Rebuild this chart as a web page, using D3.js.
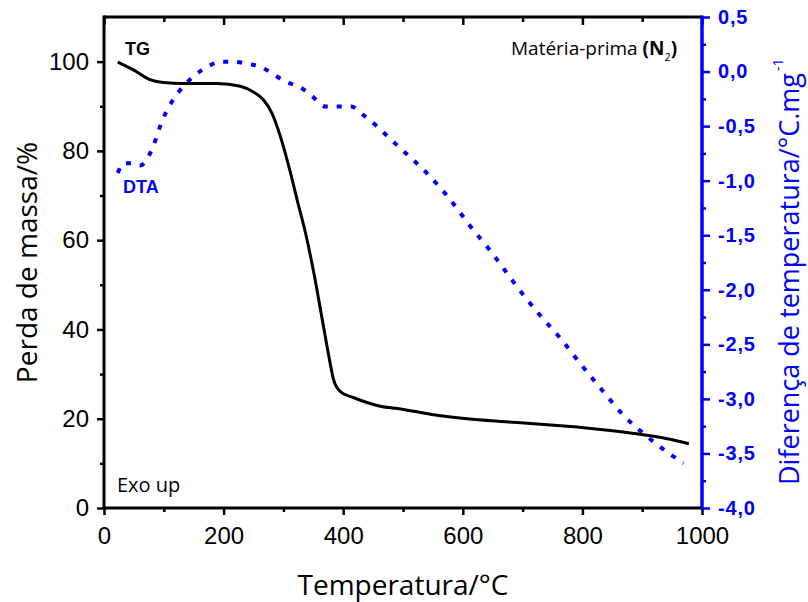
<!DOCTYPE html>
<html>
<head>
<meta charset="utf-8">
<script src="https://cdn.jsdelivr.net/npm/d3@7/dist/d3.min.js"></script>
<style>
  html, body { margin: 0; padding: 0; background: #fff; }
  svg { display: block; }
</style>
</head>
<body>
<svg id="chart" width="808" height="602"></svg>
<script>
// ---------- DATA ----------
const tgTemp = [23, 50, 78, 100, 133, 189, 228, 250, 267, 281, 295, 312, 323, 337, 351, 365, 376, 384, 395, 418, 462, 496, 551, 607, 663, 719, 775, 830, 886, 942, 978];
const tgMass = [99.9, 98.1, 95.9, 95.3, 95.1, 95.1, 94.5, 93.2, 91.4, 88.4, 83.2, 75.0, 69.0, 61.6, 52.6, 42.2, 34.0, 28.7, 26.1, 24.7, 22.8, 22.2, 20.9, 20.0, 19.4, 18.9, 18.3, 17.6, 16.7, 15.5, 14.4];

const dtaTemp = [23, 33, 47, 61, 77, 86, 94, 104, 116, 132, 153, 175, 195, 217, 240, 262, 283, 304, 327, 348, 370, 390, 413, 434, 456, 478, 500, 518, 538, 556, 574, 591, 607, 624, 641, 658, 691, 727, 764, 797, 833, 867, 906, 942, 969];
const dtaVal  = [-0.93, -0.84, -0.84, -0.86, -0.75, -0.63, -0.50, -0.37, -0.255, -0.14, -0.03, 0.05, 0.09, 0.09, 0.07, 0.044, -0.024, -0.094, -0.14, -0.225, -0.32, -0.32, -0.32, -0.40, -0.50, -0.613, -0.725, -0.815, -0.92, -1.026, -1.14, -1.26, -1.378, -1.495, -1.607, -1.73, -1.974, -2.22, -2.45, -2.68, -2.92, -3.14, -3.335, -3.488, -3.59];

const xTicks = [0, 200, 400, 600, 800, 1000];
const xMinor = [100, 300, 500, 700, 900];
const yLeftTicks = [0, 20, 40, 60, 80, 100];
const yLeftMinor = [10, 30, 50, 70, 90];
const yRightTicks = [0.5, 0.0, -0.5, -1.0, -1.5, -2.0, -2.5, -3.0, -3.5, -4.0];
const yRightMinor = [0.25, -0.25, -0.75, -1.25, -1.75, -2.25, -2.75, -3.25, -3.75];

// ---------- LAYOUT ----------
const L = 104, R = 702, T = 17, B = 508;
const BLUE = "#0000ff";
const svg = d3.select("#chart");

const x = d3.scaleLinear().domain([0, 1000]).range([L, R]);
const yL = d3.scaleLinear().domain([0, 110]).range([B, T]);
const yR = d3.scaleLinear().domain([-4.0, 0.5]).range([B, T]);

const fmtR = v => (Math.abs(v) < 1e-9 ? "0,0" : v.toFixed(1).replace(".", ","));

function styleAxis(g, color, fontSize, weight, family) {
  g.select(".domain").remove();
  g.selectAll(".tick line").attr("stroke", color).attr("stroke-width", 2.5);
  g.selectAll(".tick text")
    .attr("fill", color)
    .style("font-family", family || "'Liberation Sans', Arial, sans-serif")
    .style("font-size", fontSize + "px")
    .style("font-weight", weight || "normal");
}

// bottom axis
svg.append("g").attr("transform", `translate(0,${B})`)
  .call(d3.axisBottom(x).tickValues(xTicks).tickSize(7).tickPadding(12).tickFormat(d3.format("d")))
  .call(g => styleAxis(g, "#000", 24));
svg.append("g").attr("transform", `translate(0,${B})`)
  .call(d3.axisBottom(x).tickValues(xMinor).tickSize(4).tickFormat(""))
  .call(g => styleAxis(g, "#000", 24));
// top axis (ticks inward)
svg.append("g").attr("transform", `translate(0,${T})`)
  .call(d3.axisTop(x).tickValues(xTicks).tickSize(-8).tickFormat(""))
  .call(g => styleAxis(g, "#000", 24));
svg.append("g").attr("transform", `translate(0,${T})`)
  .call(d3.axisTop(x).tickValues(xMinor).tickSize(-5).tickFormat(""))
  .call(g => styleAxis(g, "#000", 24));
// left axis
svg.append("g").attr("transform", `translate(${L},0)`)
  .call(d3.axisLeft(yL).tickValues(yLeftTicks).tickSize(7).tickPadding(8).tickFormat(d3.format("d")))
  .call(g => styleAxis(g, "#000", 24));
svg.append("g").attr("transform", `translate(${L},0)`)
  .call(d3.axisLeft(yL).tickValues(yLeftMinor).tickSize(4).tickFormat(""))
  .call(g => styleAxis(g, "#000", 24));
// right axis (blue)
svg.append("g").attr("transform", `translate(${R},0)`)
  .call(d3.axisRight(yR).tickValues(yRightTicks).tickSize(8).tickPadding(8).tickFormat(fmtR))
  .call(g => styleAxis(g, BLUE, 20, "bold"))
  .call(g => g.selectAll(".tick text").style("letter-spacing", "0.8px"));
svg.append("g").attr("transform", `translate(${R},0)`)
  .call(d3.axisRight(yR).tickValues(yRightMinor).tickSize(4).tickFormat(""))
  .call(g => styleAxis(g, BLUE, 20));

// frame
svg.append("line").attr("x1", L).attr("x2", R).attr("y1", T).attr("y2", T).attr("stroke", "#000").attr("stroke-width", 3);
svg.append("line").attr("x1", L).attr("x2", R).attr("y1", B).attr("y2", B).attr("stroke", "#000").attr("stroke-width", 3);
svg.append("line").attr("x1", L).attr("x2", L).attr("y1", T - 1.5).attr("y2", B + 1.5).attr("stroke", "#000").attr("stroke-width", 3);
svg.append("line").attr("x1", R).attr("x2", R).attr("y1", T - 1.5).attr("y2", B + 1.5).attr("stroke", BLUE).attr("stroke-width", 3.5);

// ---------- SERIES ----------
const tgData = tgTemp.map((t, i) => [t, tgMass[i]]);
const dtaData = dtaTemp.map((t, i) => [t, dtaVal[i]]);

svg.append("path")
  .datum(dtaData)
  .attr("fill", "none")
  .attr("stroke", BLUE)
  .attr("stroke-width", 4)
  .attr("stroke-dasharray", "5,9")
  .attr("d", d3.line().x(d => x(d[0])).y(d => yR(d[1])).curve(d3.curveMonotoneX));

svg.append("path")
  .datum(tgData)
  .attr("fill", "none")
  .attr("stroke", "#000")
  .attr("stroke-width", 3)
  .attr("stroke-linejoin", "round")
  .attr("d", d3.line().x(d => x(d[0])).y(d => yL(d[1])).curve(d3.curveMonotoneX));

// ---------- TEXT ----------
const sans = "'Liberation Sans', Arial, sans-serif";
const open = "'Open Sans', sans-serif";

svg.append("text").attr("x", 125).attr("y", 55).text("TG")
  .style("font-family", sans).style("font-weight", "bold").style("font-size", "18px").attr("fill", "#000");
svg.append("text").attr("x", 123).attr("y", 193).text("DTA")
  .style("font-family", sans).style("font-weight", "bold").style("font-size", "18px").attr("fill", BLUE);
svg.append("text").attr("x", 117).attr("y", 492).text("Exo up")
  .style("font-family", open).style("font-size", "20px").attr("fill", "#000");

const mp = svg.append("text").attr("x", 511).attr("y", 55)
  .style("font-family", open).style("font-size", "19px").attr("fill", "#000");
mp.append("tspan").text("Matéria-prima ");
mp.append("tspan").text("(N").style("font-weight", "bold");
mp.append("tspan").text("2").attr("dy", 6).style("font-size", "11px");
mp.append("tspan").text(")").attr("dy", -6).style("font-weight", "bold");

// axis titles
svg.append("text").attr("x", (L + R) / 2).attr("y", 595).attr("text-anchor", "middle")
  .text("Temperatura/°C")
  .style("font-family", open).style("font-size", "28px").attr("fill", "#000");

svg.append("text").attr("transform", `translate(37,${(T + B) / 2}) rotate(-90)`)
  .attr("text-anchor", "middle")
  .text("Perda de massa/%")
  .style("font-family", open).style("font-size", "28px").attr("fill", "#000");

const rt = svg.append("text").attr("transform", `translate(799,485) rotate(-90)`)
  .attr("text-anchor", "start")
  .style("font-family", open).style("font-size", "27px").attr("fill", BLUE);
rt.append("tspan").text("Diferença de temperatura/°C.mg");
rt.append("tspan").text("-1").attr("dy", -16).attr("dx", 2).style("font-size", "14px");
</script>
</body>
</html>
